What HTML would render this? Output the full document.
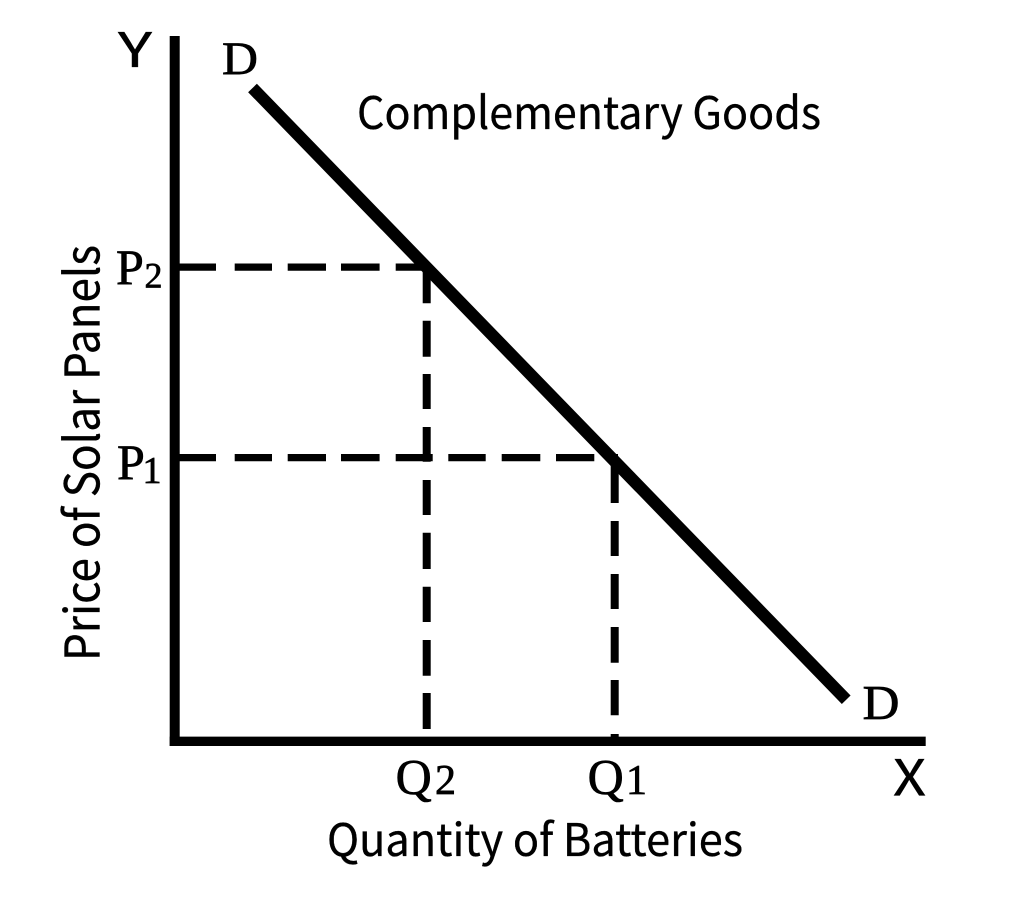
<!DOCTYPE html>
<html>
<head>
<meta charset="utf-8">
<style>
html,body{margin:0;padding:0;background:#fff;width:1023px;height:898px;overflow:hidden}
svg{display:block}
.s{font-family:"Noto Sans CJK JP","Liberation Sans",sans-serif;fill:#000;stroke:#000;stroke-width:.35}
.r{font-family:"Liberation Serif",serif;fill:#000;stroke:#000;stroke-width:.7}
</style>
</head>
<body>
<svg width="1023" height="898" viewBox="0 0 1023 898" xmlns="http://www.w3.org/2000/svg">
<rect width="1023" height="898" fill="#fff"/>
<line x1="174.7" y1="36" x2="174.7" y2="746" stroke="#000" stroke-width="10"/>
<line x1="169.7" y1="741.3" x2="925.7" y2="741.3" stroke="#000" stroke-width="9.3"/>
<line x1="252.5" y1="88" x2="846.2" y2="699.8" stroke="#000" stroke-width="12.2"/>
<path stroke="#000" stroke-width="7.2" fill="none" d="M178 267.1H216M234.7 267.1H272M287.7 267.1H326M341 267.1H379.6M395.7 267.1H430"/>
<path stroke="#000" stroke-width="7.3" fill="none" d="M178 457.6H216M234.7 457.6H272M287.7 457.6H326M341 457.6H379.6M395.7 457.6H432.7M448.3 457.6H485.7M501.7 457.6H540.3M556 457.6H594.3M610 457.6H618"/>
<path stroke="#000" stroke-width="8" fill="none" d="M426.7 268V303.3M426.7 320.7V356.7M426.7 374V409M426.7 427V461.7M426.7 480V515M426.7 532.7V569M426.7 586.7V622M426.7 640V675.7M426.7 693V729"/>
<path stroke="#000" stroke-width="8" fill="none" d="M614.7 460V503M614.7 521V556M614.7 574V609M614.7 627V662.7M614.7 680V715.3M614.7 734V740"/>
<text class="s" x="118" y="67" font-size="48" textLength="34" lengthAdjust="spacingAndGlyphs">Y</text>
<text class="r" x="222" y="74" font-size="47" textLength="36" lengthAdjust="spacingAndGlyphs">D</text>
<text class="s" x="357" y="129" font-size="45" textLength="464" lengthAdjust="spacingAndGlyphs">Complementary Goods</text>
<text class="r" x="116" y="284" font-size="50">P<tspan x="144.5" y="287.5" font-size="36">2</tspan></text>
<text class="r" x="117" y="479" font-size="50">P<tspan x="142.5" y="483" font-size="38">1</tspan></text>
<text class="s" font-size="48" transform="translate(99.5,661) rotate(-90)" textLength="416" lengthAdjust="spacingAndGlyphs">Price of Solar Panels</text>
<text class="r" x="862.5" y="719" font-size="49" textLength="37" lengthAdjust="spacingAndGlyphs">D</text>
<text class="r" x="395.6" y="793.5" font-size="50">Q<tspan x="435" y="794" font-size="42">2</tspan></text>
<text class="r" x="587.6" y="793.5" font-size="50">Q<tspan x="626" y="794" font-size="42">1</tspan></text>
<text class="s" x="893" y="795.7" font-size="50" textLength="33" lengthAdjust="spacingAndGlyphs">X</text>
<text class="s" x="327" y="856" font-size="45" textLength="416" lengthAdjust="spacingAndGlyphs">Quantity of Batteries</text>
</svg>
</body>
</html>
